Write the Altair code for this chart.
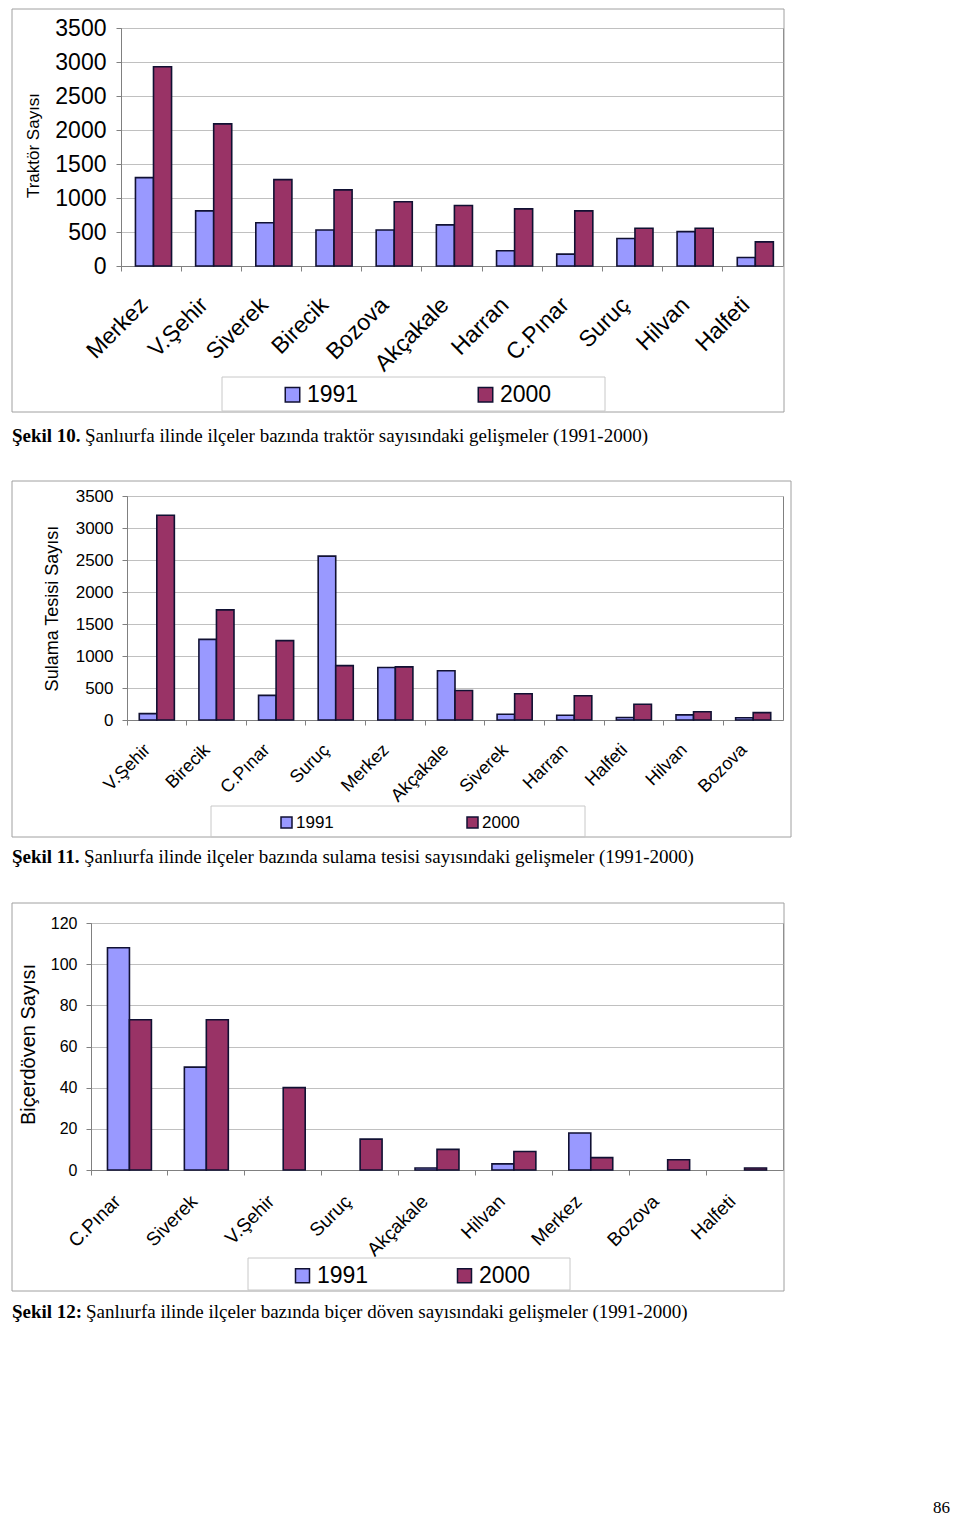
import altair as alt
import pandas as pd

years = ["1991", "2000"]

# Şekil 10 - Traktör
c1_districts = ["Merkez", "V.Şehir", "Siverek", "Birecik", "Bozova", "Akçakale",
                "Harran", "C.Pınar", "Suruç", "Hilvan", "Halfeti"]
c1_1991 = [1300, 810, 635, 530, 530, 605, 225, 175, 405, 505, 125]
c1_2000 = [2930, 2090, 1270, 1120, 945, 890, 840, 810, 555, 555, 355]

# Şekil 11 - Sulama tesisi
c2_districts = ["V.Şehir", "Birecik", "C.Pınar", "Suruç", "Merkez", "Akçakale",
                "Siverek", "Harran", "Halfeti", "Hilvan", "Bozova"]
c2_1991 = [100, 1260, 385, 2560, 820, 770, 90, 75, 40, 80, 35]
c2_2000 = [3200, 1720, 1240, 850, 830, 460, 410, 380, 245, 130, 115]

# Şekil 12 - Biçerdöven
c3_districts = ["C.Pınar", "Siverek", "V.Şehir", "Suruç", "Akçakale", "Hilvan",
                "Merkez", "Bozova", "Halfeti"]
c3_1991 = [108, 50, 0, 0, 1, 3, 18, 0, 0]
c3_2000 = [73, 73, 40, 15, 10, 9, 6, 5, 1]

captions_bold = ["Şekil 10.", "Şekil 11.", "Şekil 12:"]
captions_rest = [
    "Şanlıurfa ilinde ilçeler bazında traktör sayısındaki gelişmeler (1991-2000)",
    "Şanlıurfa ilinde ilçeler bazında sulama tesisi sayısındaki gelişmeler (1991-2000)",
    "Şanlıurfa ilinde ilçeler bazında biçer döven sayısındaki gelişmeler (1991-2000)",
]
page_number = "86"

SANS = "Liberation Sans"
SERIF = "Liberation Serif"
C91 = "#9999FF"
C00 = "#993366"
BAR_STROKE = "#111133"
AXIS_GRAY = "#808080"
GRID_GRAY = "#c0c0c0"
BOX_GRAY = "#a0a0a0"
LEG_GRAY = "#c8c8c8"


def make_panel(districts, v91, v00, ymax, ystep, ytitle, w, h, c):
    n = len(districts)
    df = pd.DataFrame({
        "district": districts * 2,
        "year": ["1991"] * n + ["2000"] * n,
        "value": v91 + v00,
    })
    bars = alt.Chart(df).transform_filter("datum.value > 0").mark_bar(
        stroke=BAR_STROKE, strokeWidth=1.6
    ).encode(
        x=alt.X("district:N", sort=districts, title=None,
                scale=alt.Scale(paddingInner=0, paddingOuter=0),
                axis=alt.Axis(labelAngle=-45, labelAlign="right", labelBaseline="middle",
                              labelFont=SANS, labelFontSize=c["xfs"], labelColor="black",
                              labelPadding=c["xpad"], labelOffset=c["xoff"],
                              tickSize=5, bandPosition=0, tickColor=AXIS_GRAY,
                              domainColor=AXIS_GRAY, grid=False, labelOverlap=False)),
        xOffset=alt.XOffset("year:N", sort=years,
                            scale=alt.Scale(paddingInner=0, paddingOuter=c["po"],
                                            align=c["al"])),
        y=alt.Y("value:Q",
                scale=alt.Scale(domain=[0, ymax], nice=False, zero=True),
                axis=alt.Axis(values=list(range(0, ymax + 1, ystep)), format="d", title=ytitle,
                              titleFont=SANS, titleFontSize=c["tfs"], titleFontWeight="normal",
                              titleColor="black", titleX=c["tx"], titleY=c["ty"], titleAngle=270,
                              titleAlign="center", titleBaseline="middle",
                              labelFont=SANS, labelFontSize=c["yfs"], labelColor="black",
                              labelPadding=c["ypad"], tickSize=5, tickColor=AXIS_GRAY,
                              domainColor=AXIS_GRAY, gridColor=GRID_GRAY, grid=True)),
        color=alt.Color("year:N", sort=years,
                        scale=alt.Scale(domain=years, range=[C91, C00]),
                        legend=alt.Legend(orient="none", legendX=c["lx"], legendY=c["ly"],
                                          direction="horizontal", title=None,
                                          symbolType="square", symbolSize=c["ss"],
                                          symbolStrokeColor=BAR_STROKE, symbolStrokeWidth=1.5,
                                          symbolOpacity=1,
                                          labelFont=SANS, labelFontSize=c["lfs"],
                                          labelColor="black", labelOffset=c["lo"],
                                          columnPadding=c["cp"], padding=0)),
    ).properties(width=w, height=h)

    deco = alt.Chart(pd.DataFrame({"k": [0]}))
    frame = deco.mark_rect(opacity=0).encode(
        x=alt.value(c["ox"][0]), x2=alt.value(c["ox"][1]),
        y=alt.value(c["oy"][0]), y2=alt.value(c["fb"]))
    outer = deco.mark_rect(fillOpacity=0, stroke=BOX_GRAY, strokeWidth=1).encode(
        x=alt.value(c["ox"][0]), x2=alt.value(c["ox"][1]),
        y=alt.value(c["oy"][0]), y2=alt.value(c["oy"][1]))
    legbox = deco.mark_rect(fillOpacity=0, stroke=LEG_GRAY, strokeWidth=1).encode(
        x=alt.value(c["bx"][0]), x2=alt.value(c["bx"][1]),
        y=alt.value(c["by"][0]), y2=alt.value(c["by"][1]))
    cap1 = deco.mark_text(align="left", baseline="alphabetic", font=SERIF,
                          fontSize=c["cfs"], fontWeight="bold", color="black",
                          text=c["cb"]).encode(x=alt.value(c["cx"][0]), y=alt.value(c["cy"]))
    cap2 = deco.mark_text(align="left", baseline="alphabetic", font=SERIF,
                          fontSize=c["cfs"], color="black",
                          text=c["cr"]).encode(x=alt.value(c["cx"][1]), y=alt.value(c["cy"]))
    layers = [frame, outer, legbox, cap1, cap2]
    if c.get("pn"):
        pn = deco.mark_text(align="right", baseline="alphabetic", font=SERIF,
                            fontSize=17, color="black", text=c["pn"]).encode(
            x=alt.value(c["pnx"]), y=alt.value(c["pny"]))
        layers.append(pn)
    panel = alt.layer(*layers, bars)
    spacer = alt.Chart(pd.DataFrame({"k": [0]})).mark_rect(opacity=0).encode(
        x=alt.value(0), x2=alt.value(1), y=alt.value(0), y2=alt.value(1)
    ).properties(width=1, height=1, view=alt.ViewBackground(stroke="transparent"))
    return alt.hconcat(spacer, panel, spacing=0)


p1 = make_panel(c1_districts, c1_1991, c1_2000, 3500, 500, "Traktör Sayısı", 662, 238, dict(
    xfs=23, xpad=30, xoff=-7, po=0.667, al=0.6, tfs=17, tx=-88, ty=117, yfs=23, ypad=10,
    lx=272, ly=355, ss=210, lfs=23, lo=3, cp=115,
    ox=(-109, 663), oy=(-19, 384), fb=451, bx=(101, 484), by=(349, 383),
    cfs=19, cb=captions_bold[0], cr=captions_rest[0], cx=(-109, -36), cy=414))

p2 = make_panel(c2_districts, c2_1991, c2_2000, 3500, 500, "Sulama Tesisi Sayısı", 656, 224, dict(
    xfs=18, xpad=22, xoff=-9, po=0.7, al=0.5, tfs=18, tx=-75, ty=112, yfs=17, ypad=9,
    lx=269, ly=318, ss=121, lfs=17, lo=1, cp=130,
    ox=(-115, 664), oy=(-15, 341), fb=405, bx=(84, 458), by=(310, 341),
    cfs=19, cb=captions_bold[1], cr=captions_rest[1], cx=(-115, -43), cy=367))

p3 = make_panel(c3_districts, c3_1991, c3_2000, 120, 20, "Biçerdöven Sayısı", 692, 247, dict(
    xfs=19, xpad=23, xoff=-12, po=0.75, al=0.5, tfs=20, tx=-63, ty=121, yfs=16, ypad=9,
    lx=282, ly=341, ss=196, lfs=23, lo=3, cp=84,
    ox=(-79, 693), oy=(-20, 368), fb=588, bx=(157, 479), by=(335, 367),
    cfs=19, cb=captions_bold[2], cr=captions_rest[2], cx=(-79, -5), cy=395,
    pn=page_number, pnx=859, pny=590))

chart = alt.vconcat(p1, p2, p3, spacing=0).resolve_scale(
    color="independent", x="independent", xOffset="independent", y="independent"
).resolve_legend(color="independent").properties(
    padding=0, background="white"
).configure_view(stroke=AXIS_GRAY, strokeWidth=1)

chart.save("out.html", embed_options={"renderer": "svg", "actions": False})
